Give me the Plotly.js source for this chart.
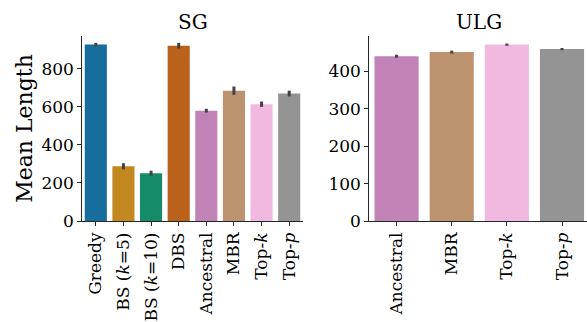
<!DOCTYPE html>
<html>
<head>
<meta charset="utf-8">
<script src="https://cdn.plot.ly/plotly-3.0.1.min.js"></script>
<style>html,body{margin:0;padding:0;background:#fff;}#chart{width:587px;height:322px;}</style>
</head>
<body>
<div id="chart"></div>
<script>
// SG panel
const sgCategories = ["Greedy", "BS (k=5)", "BS (k=10)", "DBS", "Ancestral", "MBR", "Top-k", "Top-p"];
const sgLabels = ["Greedy", "BS (<i>k</i>=5)", "BS (<i>k</i>=10)", "DBS", "Ancestral", "MBR", "Top-<i>k</i>", "Top-<i>p</i>"];
const sgMeans = [926, 287, 251, 920, 579, 684, 613, 669];
const sgErrors = [9, 16, 13, 15, 10, 22, 14, 15];
const sgColors = ["#176d9c", "#c38820", "#168b6a", "#ba611b", "#c183b5", "#bd926e", "#f1b8e0", "#949494"];

// ULG panel
const ulgCategories = ["Ancestral", "MBR", "Top-k", "Top-p"];
const ulgLabels = ["Ancestral", "MBR", "Top-<i>k</i>", "Top-<i>p</i>"];
const ulgMeans = [440, 451, 471, 459];
const ulgErrors = [4, 4, 3, 3];
const ulgColors = ["#c183b5", "#bd926e", "#f1b8e0", "#949494"];

const W = 587, H = 322;
const font = {family: "DejaVu Serif, serif", color: "#000", size: 17};
const axisLine = "#262626";

const traces = [
  {
    type: "bar", x: sgCategories, y: sgMeans, xaxis: "x", yaxis: "y",
    marker: {color: sgColors, line: {width: 0}},
    error_y: {type: "data", array: sgErrors, visible: true, color: "#424242", thickness: 3, width: 0},
    hoverinfo: "x+y"
  },
  {
    type: "bar", x: ulgCategories, y: ulgMeans, xaxis: "x2", yaxis: "y2",
    marker: {color: ulgColors, line: {width: 0}},
    error_y: {type: "data", array: ulgErrors, visible: true, color: "#424242", thickness: 3, width: 0},
    hoverinfo: "x+y"
  }
];

const commonX = {
  type: "category", showline: true, linecolor: axisLine, linewidth: 1.2,
  ticks: "outside", ticklen: 3.5, tickwidth: 1, tickcolor: axisLine,
  tickangle: -90, tickfont: font, showgrid: false, zeroline: false,
  tickmode: "array", fixedrange: true
};
const commonY = {
  showline: true, linecolor: axisLine, linewidth: 1.2,
  ticks: "outside", ticklen: 3.5, tickwidth: 1, tickcolor: axisLine,
  tickfont: font, showgrid: false, zeroline: false, fixedrange: true
};

const layout = {
  width: W, height: H,
  margin: {l: 0, r: 0, t: 36, b: 101, pad: 0},
  paper_bgcolor: "#fff", plot_bgcolor: "#fff",
  showlegend: false, bargap: 0.2,
  font: font,
  xaxis: Object.assign({}, commonX, {
    domain: [82 / W, 303 / W], anchor: "y", range: [-0.5, 7.5],
    tickvals: sgCategories, ticktext: sgLabels
  }),
  yaxis: Object.assign({}, commonY, {
    domain: [0, 1], anchor: "x", range: [0, 971],
    tickvals: [0, 200, 400, 600, 800],
    title: {text: "Mean Length", font: {family: "DejaVu Serif, serif", size: 22, color: "#000"}, standoff: 2}
  }),
  xaxis2: Object.assign({}, commonX, {
    domain: [369 / W, 1], anchor: "y2", range: [-0.5, 3.453],
    tickvals: ulgCategories, ticktext: ulgLabels
  }),
  yaxis2: Object.assign({}, commonY, {
    domain: [0, 1], anchor: "x2", range: [0, 494],
    tickvals: [0, 100, 200, 300, 400]
  }),
  annotations: [
    {text: "SG", xref: "paper", yref: "paper", x: 192.5 / W, y: 1, yshift: 14, showarrow: false,
     xanchor: "center", yanchor: "middle", font: {family: "DejaVu Serif, serif", size: 20, color: "#000"}},
    {text: "ULG", xref: "paper", yref: "paper", x: 479 / W, y: 1, yshift: 14, showarrow: false,
     xanchor: "center", yanchor: "middle", font: {family: "DejaVu Serif, serif", size: 20, color: "#000"}}
  ]
};

Plotly.newPlot("chart", traces, layout, {staticPlot: true, displayModeBar: false});
</script>
</body>
</html>
